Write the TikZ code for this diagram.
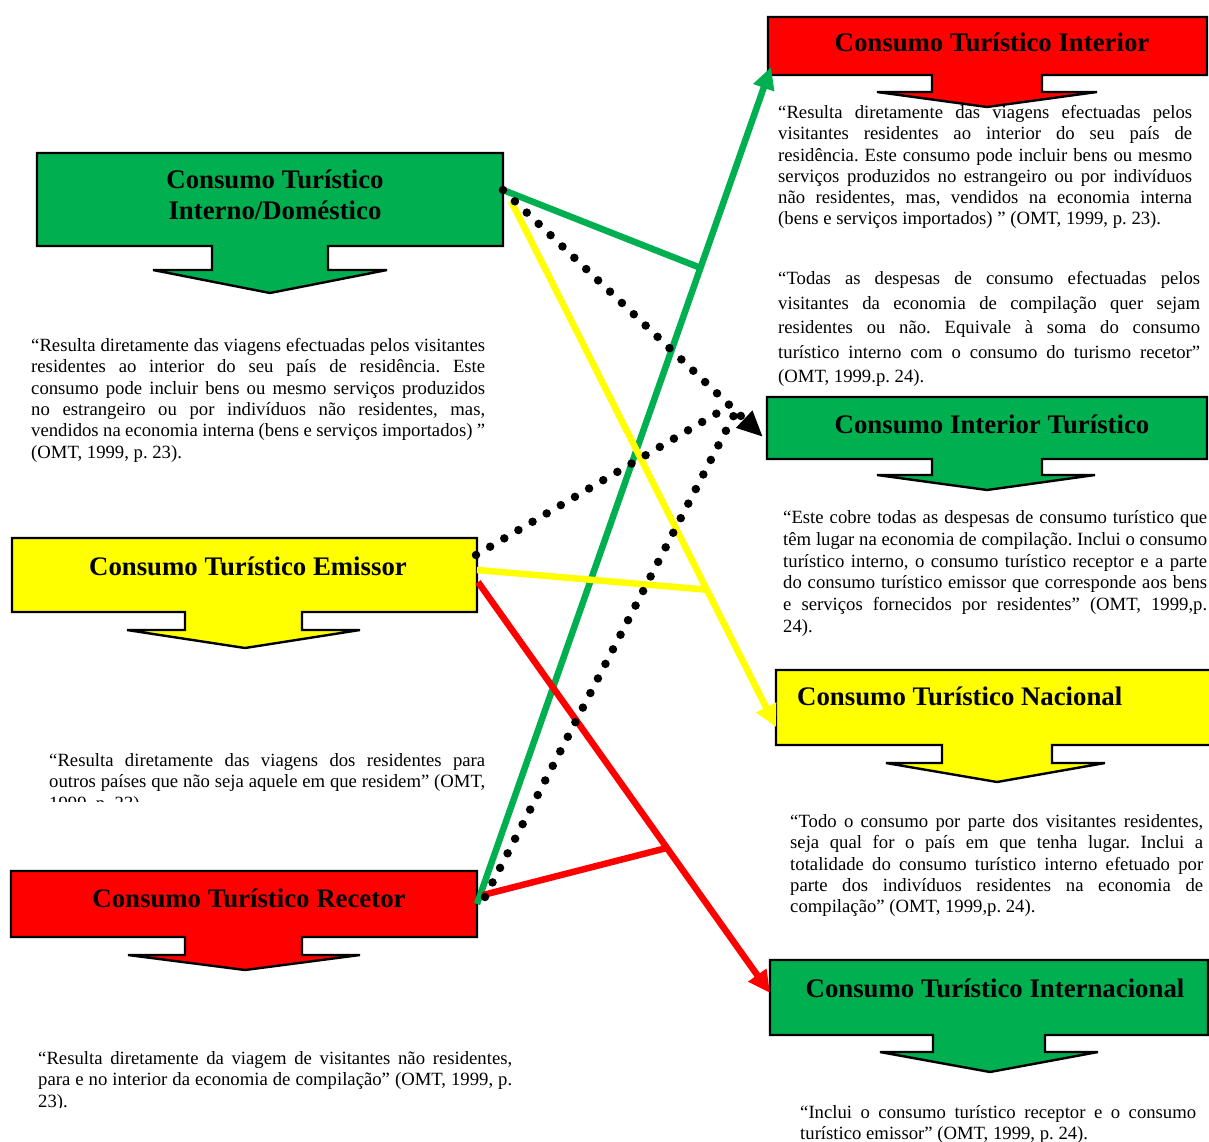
\documentclass[tikz,border=0pt]{standalone}
\usepackage{fontspec}
\setmainfont{Liberation Serif}
\usetikzlibrary{calc,arrows.meta}
\definecolor{cgreen}{HTML}{00B050}
\definecolor{cred}{HTML}{FF0000}
\definecolor{cyellow}{HTML}{FFFF00}
\newcommand\bodyfont{\fontsize{18.7}{21.3}\selectfont}
\newcommand\titlefont{\bfseries\fontsize{26.8}{30}\selectfont}
\frenchspacing
\begin{document}
\begin{tikzpicture}[x=1pt,y=-1pt,
 callout/.style={draw=black,line width=2.4pt,line join=miter},
 boxarea/.style={rectangle,inner sep=0pt,outer sep=0pt},
 title/.style={font=\titlefont,inner sep=0pt,anchor=base},
 quote/.style={font=\bodyfont,inner sep=0pt,anchor=base west,align=justify},
 link/.style={line width=6.5pt},
 dots/.style={line width=8.5pt,line cap=round,dash pattern=on 0pt off 16.4pt},
 tip/.style={-{Triangle[length=22pt,width=21pt]}},
]
\useasboundingbox (0,0) rectangle (1209,1142);

% ---- callout shapes
\path[callout,fill=cgreen] (37,153) -- (503,153) -- (503,246) -- (328,246) -- (328,270) -- (387,270) -- (270,293) -- (153,270) -- (212,270) -- (212,246) -- (37,246) -- cycle;
\path[callout,fill=cyellow] (12,538) -- (477,538) -- (477,612) -- (302,612) -- (302,630) -- (360,630) -- (245,648) -- (127,630) -- (185,630) -- (185,612) -- (12,612) -- cycle;
\path[callout,fill=cred] (11,871) -- (477,871) -- (477,937) -- (302,937) -- (302,955) -- (360,955) -- (245,970) -- (128,955) -- (185,955) -- (185,937) -- (11,937) -- cycle;
\path[callout,fill=cred] (768,17) -- (1207,17) -- (1207,75) -- (1042,75) -- (1042,92) -- (1097,92) -- (987,107) -- (877,92) -- (932,92) -- (932,75) -- (768,75) -- cycle;
\path[callout,fill=cgreen] (767,397) -- (1207,397) -- (1207,459) -- (1042,459) -- (1042,475) -- (1095,475) -- (987,490) -- (877,475) -- (932,475) -- (932,459) -- (767,459) -- cycle;
\path[callout,fill=cyellow] (776,670) -- (1215,670) -- (1215,745) -- (1052,745) -- (1052,763) -- (1105,763) -- (997,782) -- (886,763) -- (942,763) -- (942,745) -- (776,745) -- cycle;
\path[callout,fill=cgreen] (770,960) -- (1208,960) -- (1208,1035) -- (1045,1035) -- (1045,1052) -- (1098,1052) -- (990,1072) -- (880,1052) -- (933,1052) -- (933,1035) -- (770,1035) -- cycle;

% ---- box areas (for anchors)
\node[boxarea,minimum width=466pt,minimum height=93pt] (b1) at (270,199.5) {};
\node[boxarea,minimum width=465pt,minimum height=74pt] (b2) at (244.5,575) {};
\node[boxarea,minimum width=466pt,minimum height=66pt] (b3) at (244,904) {};
\node[boxarea,minimum width=439pt,minimum height=58pt] (r1) at (987.5,46) {};
\node[boxarea,minimum width=440pt,minimum height=62pt] (r2) at (987,428) {};
\node[boxarea,minimum width=439pt,minimum height=75pt] (r3) at (995.5,707.5) {};
\node[boxarea,minimum width=438pt,minimum height=75pt] (r4) at (989,997.5) {};

% ---- titles
\node[title] (h1a) at (275,189) {Consumo Turístico};
\node[title] (h1b) at (275,219) {Interno/Doméstico};
\node[title] (h2) at (248,575) {Consumo Turístico Emissor};
\node[title] (h3) at (249,907) {Consumo Turístico Recetor};
\node[title] (h4) at (992,52) {Consumo Turístico Interior};
\node[title] (h5) at (992,433) {Consumo Interior Turístico};
\node[title,anchor=base west] (h6) at (797,705) {Consumo Turístico Nacional};
\node[title] (h7) at (995,997) {Consumo Turístico Internacional};

% ---- connectors
\path (b3.east) -- ($(r1.south west)+(3,-8)$) coordinate[pos=0.76] (gj);
\path ($(b1.east)+(8,1.5)$) -- ($(r3.west)+(0,19.5)$) coordinate[pos=0.739] (yj);
\path ($(b2.east)+(1,7)$) -- ($(r4.west)+(0,-4.5)$) coordinate[pos=0.647] (rj);
\path ($(b1.north east)+(0,37)$) -- ($(r2.west)+(-4,9)$) coordinate[pos=0.873] (dj7) coordinate[pos=0.896] (dj8);

\draw[link,color=cgreen,tip] (b3.east) -- ($(r1.south west)+(3,-8)$);
\draw[link,color=cgreen] ($(b1.north east)+(0,37)$) -- (gj);
\draw[link,color=cyellow,tip] ($(b1.east)+(8,1.5)$) -- ($(r3.west)+(0,19.5)$);
\draw[link,color=cyellow] ($(b2.east)+(0,-5)$) -- (yj);
\draw[link,color=cred,tip] ($(b2.east)+(1,7)$) -- ($(r4.west)+(0,-4.5)$);
\draw[link,color=cred] ($(b3.east)+(6,-9)$) -- (rj);
\draw[dots,-{Triangle[length=26pt,width=22pt]}] ($(b1.north east)+(0,37)$) -- ($(r2.west)+(-4,9)$);
\draw[dots] ($(b2.north east)+(-1,17)$) -- (dj7);
\draw[dots] ($(b3.east)+(8,-7)$) -- (dj8);

% ---- quotes
\node[quote,text width=454pt] (q1) at (31,351.5) {“Resulta diretamente das viagens efectuadas pelos visitantes\linebreak residentes ao interior do seu país de residência. Este\linebreak consumo pode incluir bens ou mesmo serviços produzidos\linebreak no estrangeiro ou por indivíduos não residentes, mas,\linebreak vendidos na economia interna (bens e serviços importados) ”\linebreak (OMT, 1999, p. 23).};
\begin{scope}
\clip (0,740) rectangle (600,801);
\node[quote,text width=436pt] (q2) at (49,766.5) {“Resulta diretamente das viagens dos residentes para\linebreak outros países que não seja aquele em que residem” (OMT,\linebreak 1999, p. 23).};
\end{scope}
\begin{scope}
\clip (0,1040) rectangle (600,1107);
\node[quote,text width=474pt] (q3) at (38,1064.5) {“Resulta diretamente da viagem de visitantes não residentes,\linebreak para e no interior da economia de compilação” (OMT, 1999, p.\linebreak 23).};
\end{scope}
\node[quote,text width=414pt] (q4) at (778,118.5) {“Resulta diretamente das viagens efectuadas pelos\linebreak visitantes residentes ao interior do seu país de\linebreak residência. Este consumo pode incluir bens ou mesmo\linebreak serviços produzidos no estrangeiro ou por indivíduos\linebreak não residentes, mas, vendidos na economia interna\linebreak (bens e serviços importados) ” (OMT, 1999, p. 23).};
\node[quote,text width=422pt,font=\fontsize{18.7}{24.5}\selectfont] (q5) at (778,284.5) {“Todas as despesas de consumo efectuadas pelos\linebreak visitantes da economia de compilação quer sejam\linebreak residentes ou não. Equivale à soma do consumo\linebreak turístico interno com o consumo do turismo recetor”\linebreak (OMT, 1999.p. 24).};
\node[quote,text width=424pt,font=\fontsize{18.7}{21.8}\selectfont] (q6) at (783,523.5) {“Este cobre todas as despesas de consumo turístico que\linebreak têm lugar na economia de compilação. Inclui o consumo\linebreak turístico interno, o consumo turístico receptor e a parte\linebreak do consumo turístico emissor que corresponde aos bens\linebreak e serviços fornecidos por residentes” (OMT, 1999,p.\linebreak 24).};
\node[quote,text width=413pt] (q7) at (790,827.5) {“Todo o consumo por parte dos visitantes residentes,\linebreak seja qual for o país em que tenha lugar. Inclui a\linebreak totalidade do consumo turístico interno efetuado por\linebreak parte dos indivíduos residentes na economia de\linebreak compilação” (OMT, 1999,p. 24).};
\node[quote,text width=396pt] (q8) at (800,1118.5) {“Inclui o consumo turístico receptor e o consumo\linebreak turístico emissor” (OMT, 1999, p. 24).};
\end{tikzpicture}
\end{document}
